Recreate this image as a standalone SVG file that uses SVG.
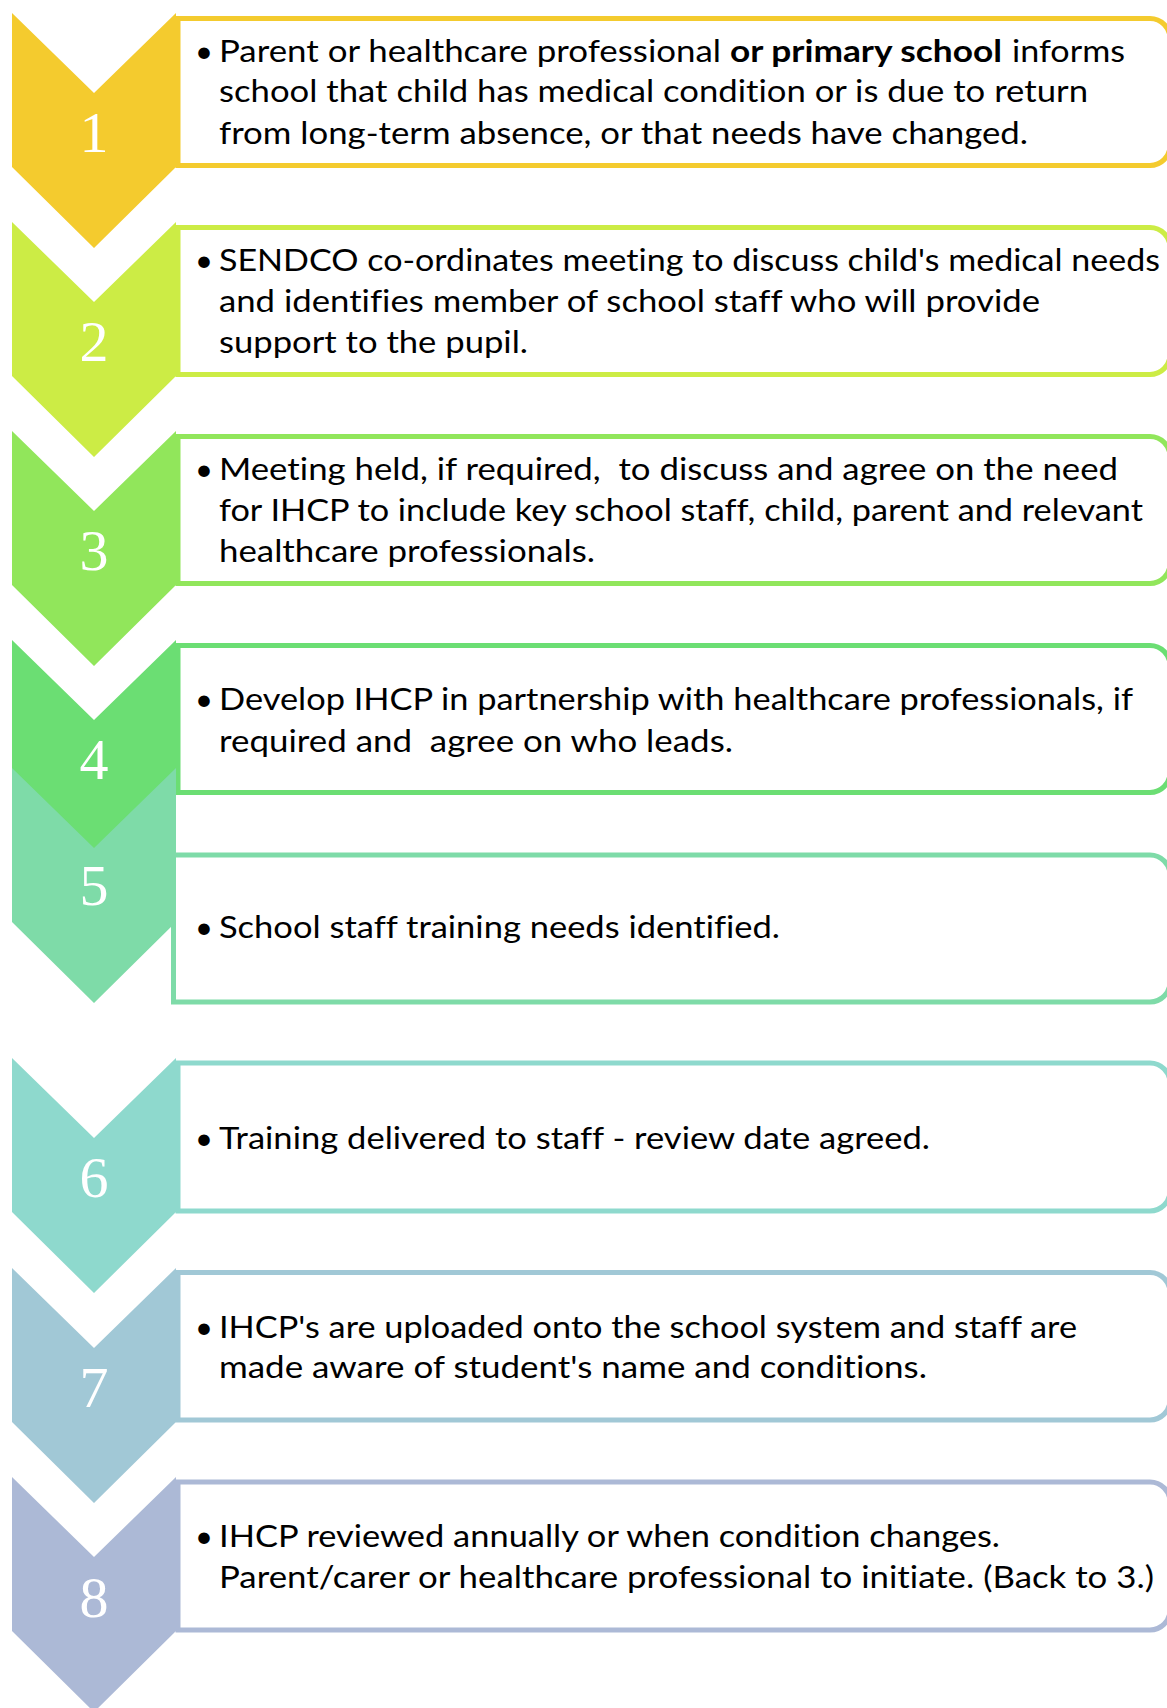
<svg xmlns="http://www.w3.org/2000/svg" width="1167" height="1708" viewBox="0 0 1167 1708">
<style>
.box{fill:#ffffff;stroke-width:5}
.num{font-family:"Liberation Serif","DejaVu Serif",serif;font-size:58px;fill:#ffffff;text-anchor:middle}
.t{font-family:Lato,"Liberation Sans",sans-serif;font-size:31px;fill:#000000;font-variant-ligatures:none}
.b{font-weight:bold}
.bul{font-family:Lato,"Liberation Sans",sans-serif;font-size:31px;fill:#000000;text-anchor:middle}
</style>
<rect width="1167" height="1708" fill="#ffffff"/>
<g id="connectors"></g>
<g id="boxes">
<path id="box1" class="box" stroke="#F4CB2E" d="M178,18.5 H1150 A20,20 0 0 1 1170,38.5 V145.5 A20,20 0 0 1 1150,165.5 H178 Z"/>
<path id="box2" class="box" stroke="#CCEC45" d="M178,227.5 H1150 A20,20 0 0 1 1170,247.5 V354.5 A20,20 0 0 1 1150,374.5 H178 Z"/>
<path id="box3" class="box" stroke="#91E65B" d="M178,436.5 H1150 A20,20 0 0 1 1170,456.5 V563.5 A20,20 0 0 1 1150,583.5 H178 Z"/>
<path id="box4" class="box" stroke="#6BDE73" d="M178,645.5 H1150 A20,20 0 0 1 1170,665.5 V772.5 A20,20 0 0 1 1150,792.5 H178 Z"/>
<path id="box5" class="box" stroke="#7EDBA8" d="M173.5,855 H1150 A20,20 0 0 1 1170,875 V982 A20,20 0 0 1 1150,1002 H173.5 Z"/>
<path id="box6" class="box" stroke="#8ED9CD" d="M178,1063 H1150 A20,20 0 0 1 1170,1083 V1191 A20,20 0 0 1 1150,1211 H178 Z"/>
<path id="box7" class="box" stroke="#A1C8D6" d="M178,1272.5 H1150 A20,20 0 0 1 1170,1292.5 V1400 A20,20 0 0 1 1150,1420 H178 Z"/>
<path id="box8" class="box" stroke="#ACB9D6" d="M178,1482 H1150 A20,20 0 0 1 1170,1502 V1610 A20,20 0 0 1 1150,1630 H178 Z"/>
</g>
<g id="step1">
<path fill="#F4CB2E" d="M12,13 L94,93 L176,13 V167 L94,248 L12,167 Z"/>
<text class="num" x="94" y="152">1</text>
</g>
<g id="step2">
<path fill="#CCEC45" d="M12,222 L94,302 L176,222 V376 L94,457 L12,376 Z"/>
<text class="num" x="94" y="361">2</text>
</g>
<g id="step3">
<path fill="#91E65B" d="M12,431 L94,511 L176,431 V585 L94,666 L12,585 Z"/>
<text class="num" x="94" y="570">3</text>
</g>
<g id="step4">
<path fill="#6BDE73" d="M12,640 L94,720 L176,640 V794 L94,875 L12,794 Z"/>
<text class="num" x="94" y="779">4</text>
</g>
<g id="step5">
<path fill="#7EDBA8" d="M12,768 L94,848 L176,768 V922 L94,1003 L12,922 Z"/>
<text class="num" x="94" y="905">5</text>
</g>
<g id="step6">
<path fill="#8ED9CD" d="M12,1058 L94,1138 L176,1058 V1212 L94,1293 L12,1212 Z"/>
<text class="num" x="94" y="1197">6</text>
</g>
<g id="step7">
<path fill="#A1C8D6" d="M12,1268 L94,1348 L176,1268 V1422 L94,1503 L12,1422 Z"/>
<text class="num" x="94" y="1407">7</text>
</g>
<g id="step8">
<path fill="#ACB9D6" d="M12,1477 L94,1557 L176,1477 V1631 L94,1712 L12,1631 Z"/>
<text class="num" x="94" y="1617">8</text>
</g>
<g id="text1">
<text class="bul" x="204" y="61.5">•</text>
<text class="t" y="61.5"><tspan x="219" textLength="502" lengthAdjust="spacingAndGlyphs">Parent or healthcare professional</tspan><tspan class="b" x="730" textLength="272" lengthAdjust="spacingAndGlyphs">or primary school</tspan><tspan x="1012" textLength="113" lengthAdjust="spacingAndGlyphs">informs</tspan></text>
<text class="t" x="219" y="102" textLength="869" lengthAdjust="spacingAndGlyphs">school that child has medical condition or is due to return</text>
<text class="t" x="219" y="143.5" textLength="809" lengthAdjust="spacingAndGlyphs">from long-term absence, or that needs have changed.</text>
</g>
<g id="text2">
<text class="bul" x="204" y="270.5">•</text>
<text class="t" x="219" y="270.5" textLength="941" lengthAdjust="spacingAndGlyphs">SENDCO co-ordinates meeting to discuss child's medical needs</text>
<text class="t" x="219" y="311.5" textLength="821" lengthAdjust="spacingAndGlyphs">and identifies member of school staff who will provide</text>
<text class="t" x="219" y="353" textLength="309" lengthAdjust="spacingAndGlyphs">support to the pupil.</text>
</g>
<g id="text3">
<text class="bul" x="204" y="479.5">•</text>
<text class="t" x="219" y="479.5" textLength="899" lengthAdjust="spacingAndGlyphs" xml:space="preserve">Meeting held, if required,  to discuss and agree on the need</text>
<text class="t" x="219" y="521" textLength="924" lengthAdjust="spacingAndGlyphs">for IHCP to include key school staff, child, parent and relevant</text>
<text class="t" x="219" y="562" textLength="376" lengthAdjust="spacingAndGlyphs">healthcare professionals.</text>
</g>
<g id="text4">
<text class="bul" x="204" y="710">•</text>
<text class="t" x="219" y="710" textLength="914" lengthAdjust="spacingAndGlyphs">Develop IHCP in partnership with healthcare professionals, if</text>
<text class="t" x="219" y="751.5" textLength="514" lengthAdjust="spacingAndGlyphs" xml:space="preserve">required and  agree on who leads.</text>
</g>
<g id="text5">
<text class="bul" x="204" y="938">•</text>
<text class="t" x="219" y="938" textLength="561" lengthAdjust="spacingAndGlyphs">School staff training needs identified.</text>
</g>
<g id="text6">
<text class="bul" x="204" y="1149">•</text>
<text class="t" x="219" y="1149" textLength="711" lengthAdjust="spacingAndGlyphs">Training delivered to staff - review date agreed.</text>
</g>
<g id="text7">
<text class="bul" x="204" y="1337.5">•</text>
<text class="t" x="219" y="1337.5" textLength="858" lengthAdjust="spacingAndGlyphs">IHCP's are uploaded onto the school system and staff are</text>
<text class="t" x="219" y="1378" textLength="708" lengthAdjust="spacingAndGlyphs">made aware of student's name and conditions.</text>
</g>
<g id="text8">
<text class="bul" x="204" y="1547">•</text>
<text class="t" x="219" y="1547" textLength="781" lengthAdjust="spacingAndGlyphs">IHCP reviewed annually or when condition changes.</text>
<text class="t" x="219" y="1587.5" textLength="935" lengthAdjust="spacingAndGlyphs">Parent/carer or healthcare professional to initiate. (Back to 3.)</text>
</g>
</svg>
